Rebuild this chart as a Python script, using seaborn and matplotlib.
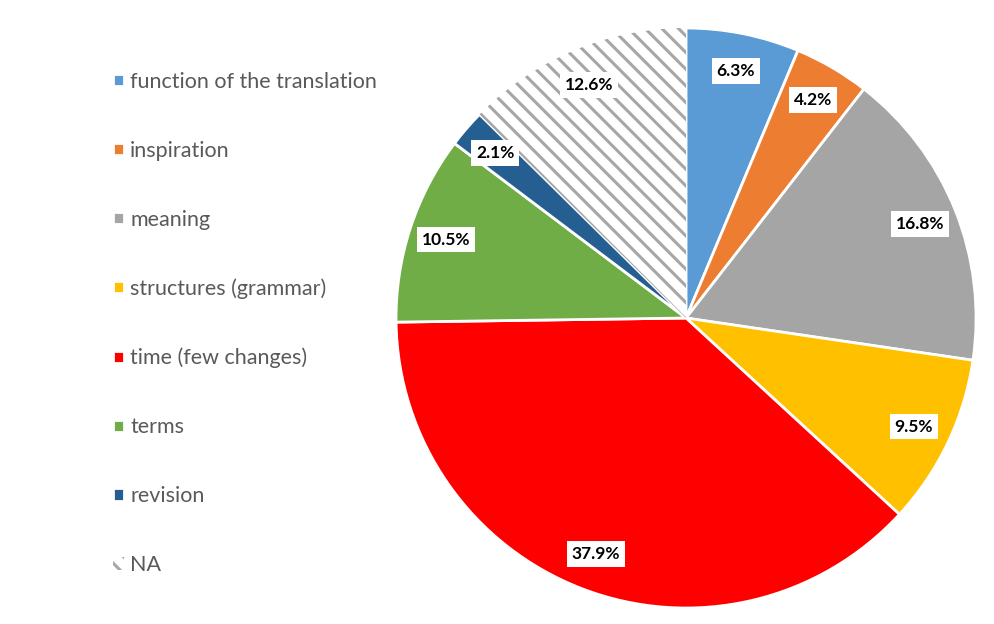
import matplotlib
matplotlib.use("Agg")
import matplotlib.pyplot as plt
import seaborn as sns

sns.set_theme(style="white")
plt.rcParams['font.family'] = ['Lato', 'DejaVu Sans']
plt.rcParams['hatch.linewidth'] = 2.2

# Data
categories = ["function of the translation", "inspiration", "meaning",
              "structures (grammar)", "time (few changes)", "terms",
              "revision", "NA"]
shares = [6.3, 4.2, 16.8, 9.5, 37.9, 10.5, 2.1, 12.6]
colors = ["#5B9BD5", "#ED7D31", "#A5A5A5", "#FFC000", "#FF0000",
          "#70AD47", "#255E91", "#FFFFFF"]

fig = plt.figure(figsize=(9.95, 6.24), dpi=100)
ax = fig.add_axes([0.398, 0.0256, 0.583, 0.9295])

wedges, texts, autotexts = ax.pie(
    shares, colors=colors, startangle=90, counterclock=False,
    autopct="%.1f%%", pctdistance=0.87, radius=1,
    wedgeprops=dict(edgecolor="white", linewidth=2),
    textprops=dict(fontsize=12.5, fontweight="bold", color="black"),
)
ax.set_xlim(-1, 1)
ax.set_ylim(-1, 1)
ax.set_aspect("equal")

# NA slice: grey diagonal hatch on white
na = wedges[-1]
na.set_hatch("\\\\")
na.set_edgecolor("#A6A6A6")
na.set_linewidth(0)

for t in autotexts:
    t.set_bbox(dict(facecolor="white", edgecolor="none", pad=3.5))

fig.legend(wedges, categories, loc="upper left",
           bbox_to_anchor=(0.094, 0.916), frameon=False,
           fontsize=15.5, labelcolor="#595959",
           handlelength=0.5, handleheight=0.5, handletextpad=0.3,
           labelspacing=2.27)

fig.savefig("out.png", dpi=100)
